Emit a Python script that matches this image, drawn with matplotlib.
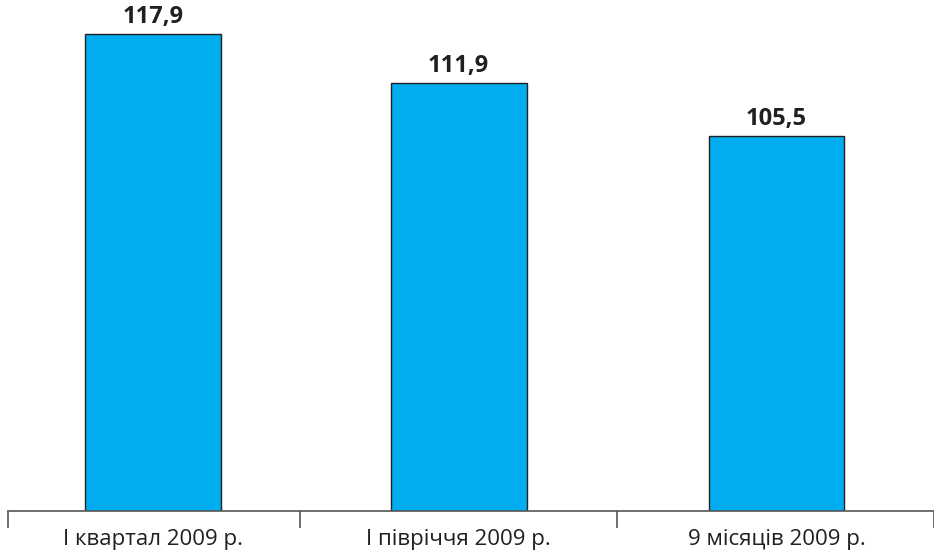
import matplotlib.pyplot as plt
from matplotlib.ticker import FixedLocator

plt.rcParams['font.family'] = ['Open Sans', 'DejaVu Sans']

# Data
categories = ['I квартал 2009 р.', 'I півріччя 2009 р.', '9 місяців 2009 р.']
values = [117.9, 111.9, 105.5]
value_labels = ['117,9', '111,9', '105,5']

# slightly uneven category spacing, as in the original layout
xpos = [-0.03, 0.96, 1.99]
bounds = [-0.5, 0.446, 1.473, 2.5]

fig = plt.figure(figsize=(9.34, 5.56), dpi=100)
ax = fig.add_axes([8 / 934, 45.5 / 556, 926 / 934, 510.5 / 556])

ax.bar(xpos, values, width=0.44, color='#00ADEF', edgecolor='#231F20', linewidth=1.0)

for xi, v, lab in zip(xpos, values, value_labels):
    ax.text(xi, v + 0.6, lab, ha='center', va='bottom', fontsize=17,
            fontweight='bold', color='#231F20')

ax.set_ylim(60, 122.0)
ax.set_xlim(bounds[0], bounds[-1])

for s in ['top', 'right', 'left']:
    ax.spines[s].set_visible(False)
ax.spines['bottom'].set_color('#555555')
ax.spines['bottom'].set_linewidth(1.2)
ax.set_yticks([])

ax.set_xticks(xpos)
ax.set_xticklabels(categories, fontsize=16, color='#231F20')
ax.tick_params(axis='x', which='major', length=0, pad=13)
ax.xaxis.set_minor_locator(FixedLocator(bounds))
ax.tick_params(axis='x', which='minor', length=12, width=1.2, color='#555555', direction='out')

fig.savefig('out.png', dpi=100)
